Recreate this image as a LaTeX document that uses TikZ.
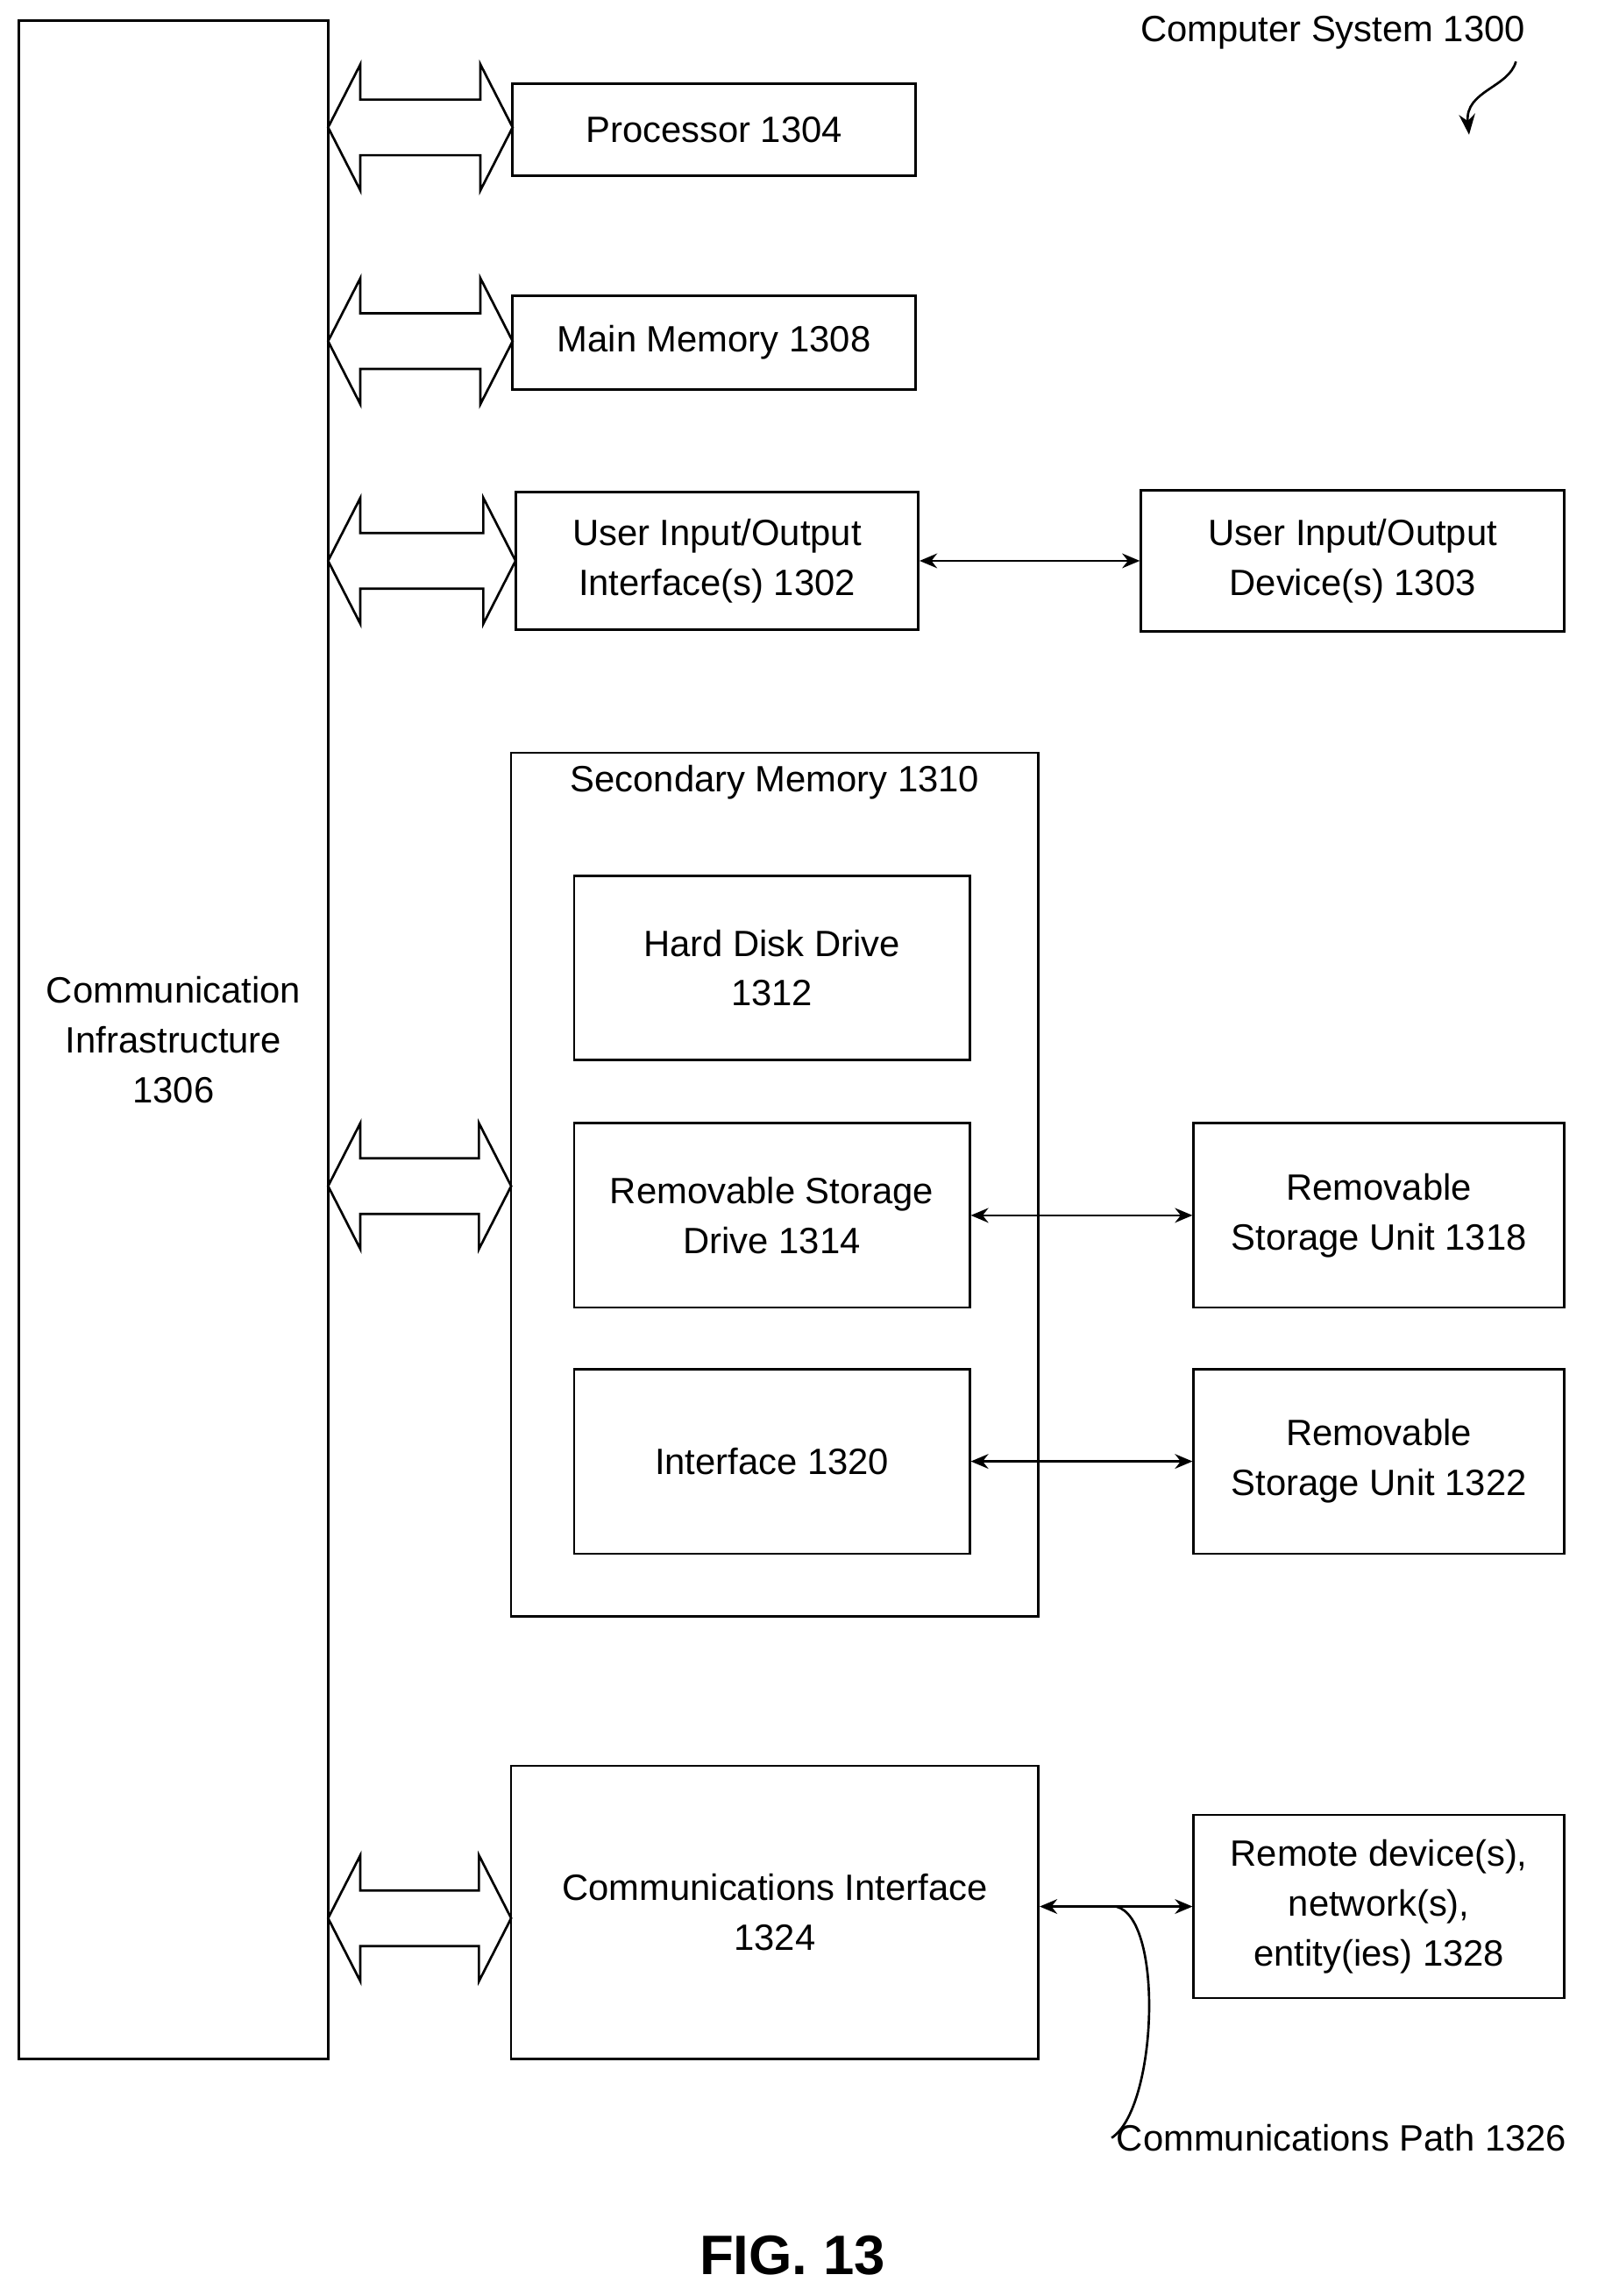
\documentclass[tikz,border=0pt]{standalone}
\usepackage{fontspec}
\setmainfont{Liberation Sans}
\usetikzlibrary{arrows.meta}
\tikzset{
  blk/.style={draw, line width=1.6pt, align=center, inner sep=0pt,
    font=\fontsize{25}{34}\selectfont},
  lbl/.style={align=center, font=\fontsize{25}{34}\selectfont},
  link/.style={line width=1.6pt, {Stealth[length=12pt,width=10pt]}-{Stealth[length=12pt,width=10pt]}},
}
% block bus arrow: #1 = y of centre, #2 = x of right tip
\newcommand{\busarrow}[2]{%
  \draw[line width=1.6pt, fill=white] (224,#1) -- (246,#1-43) -- (246,#1-19) -- (#2-22,#1-19)
    -- (#2-22,#1-43) -- (#2,#1) -- (#2-22,#1+43) -- (#2-22,#1+19) -- (246,#1+19)
    -- (246,#1+43) -- cycle;}
\begin{document}
\begin{tikzpicture}[x=1pt, y=-1pt]
\useasboundingbox (0,0) rectangle (1100,1568);
% boxes
\node[blk, minimum width=211pt, minimum height=1392pt] (comm) at (118.5,710) {Communication\\Infrastructure\\1306};
\node[blk, minimum width=275pt, minimum height=63pt] (proc) at (487.5,88.5) {Processor 1304};
\node[blk, minimum width=275pt, minimum height=64pt] (mem) at (487.5,234) {Main Memory 1308};
\node[blk, minimum width=275pt, minimum height=94pt] (uioi) at (489.5,383) {User Input/Output\\Interface(s) 1302};
\node[blk, minimum width=289pt, minimum height=96pt] (uiod) at (923.5,383) {User Input/Output\\Device(s) 1303};
\node[blk, minimum width=360pt, minimum height=590pt] (sec) at (529,809) {};
\node[lbl, anchor=center] (sectitle) at (529,534) {Secondary Memory 1310};
\node[blk, minimum width=270pt, minimum height=126pt] (hdd) at (527,661) {Hard Disk Drive\\1312};
\node[blk, minimum width=270pt, minimum height=126pt] (rsd) at (527,830) {Removable Storage\\Drive 1314};
\node[blk, minimum width=270pt, minimum height=126pt] (intf) at (527,998) {Interface 1320};
\node[blk, minimum width=253pt, minimum height=126pt] (rsu1) at (941.5,830) {Removable\\Storage Unit 1318};
\node[blk, minimum width=253pt, minimum height=126pt] (rsu2) at (941.5,998) {Removable\\Storage Unit 1322};
\node[blk, minimum width=360pt, minimum height=200pt] (ci) at (529,1306) {Communications Interface\\1324};
\node[blk, minimum width=253pt, minimum height=125pt] (remote) at (941.5,1302) {Remote device(s),\\network(s),\\entity(ies) 1328};
% bus arrows
\busarrow{87}{350}
\busarrow{233}{350}
\busarrow{383}{352}
\busarrow{810}{349}
\busarrow{1310}{349}
% links
\draw[link] (uioi.east) -- (uiod.west);
\draw[link] (rsd.east) -- (rsu1.west);
\draw[link] (intf.east) -- (rsu2.west);
\draw[link] (ci.east |- remote.west) -- (remote.west);
% labels
\coordinate (pathstart) at (762,1302);
\node[lbl] (pathlbl) at (916,1460) {Communications Path 1326};
\draw[line width=1.6pt] (pathstart) .. controls (795,1310) and (790,1440) .. (pathlbl.west);
\node[lbl] (sys) at (910,22) {Computer System 1300};
\coordinate (systip) at (1003,92);
\draw[line width=1.6pt, -{Stealth[length=14pt,width=11pt]}] (1035,42) .. controls (1030,60) and (1000,62) .. (systip);
\node[font=\bfseries\fontsize{38}{44}\selectfont] (fig) at (541,1540) {FIG. 13};
\end{tikzpicture}
\end{document}
